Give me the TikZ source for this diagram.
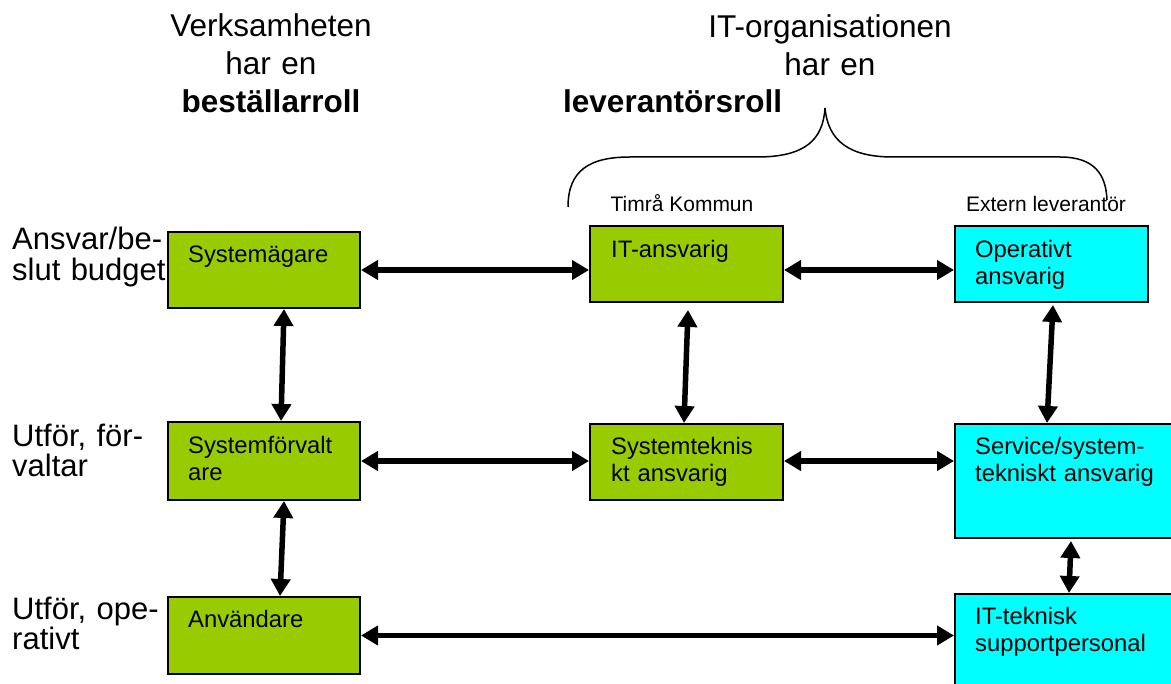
\documentclass[tikz,border=0pt]{standalone}
\usepackage{fontspec}
\setmainfont{Liberation Sans}
\usetikzlibrary{arrows.meta,calc}
\definecolor{boxgreen}{HTML}{99CC00}
\definecolor{boxcyan}{HTML}{00FFFF}
\frenchspacing
\begin{document}
\begin{tikzpicture}[x=1pt,y=-1pt,
  box/.style={draw=black, line width=2pt, inner sep=0pt, anchor=north west},
  gbox/.style={box, fill=boxgreen},
  cbox/.style={box, fill=boxcyan},
  boxtext/.style={anchor=base west, inner sep=0pt, font=\fontsize{23.8}{27}\selectfont, text width=220pt, align=left},
  sidetext/.style={anchor=base west, inner sep=0pt, font=\fontsize{31}{31}\selectfont, text width=200pt, align=left},
  headtext/.style={anchor=base, inner sep=0pt, font=\fontsize{31.5}{38}\selectfont, text width=320pt, align=center},
  smalltext/.style={anchor=base, inner sep=0pt, font=\fontsize{21}{24}\selectfont},
  arr/.style={line width=5.5pt, {Triangle[length=17pt,width=19pt]}-{Triangle[length=17pt,width=19pt]}},
  bracestyle/.style={line width=1.5pt}
]
\useasboundingbox (0,0) rectangle (1171,684);
\clip (0,0) rectangle (1171,684);

% headings
\node[headtext] (h1) at (271,37) {Verksamheten\\har en\\\textbf{beställarroll}};
\node[headtext] (h2) at (830,38) {IT-organisationen\\har en};
\node[anchor=base west, inner sep=0pt, font=\fontsize{31.5}{38}\selectfont\bfseries] (h3) at (563,113) {leverantörsroll};

% brace
\draw[bracestyle] (568,207) .. controls (568,170) and (590,157) .. (630,157) -- (757,157)
  .. controls (805,157) and (823,140) .. (825,108)
  .. controls (828,140) and (848,157) .. (893,157) -- (1060,157)
  .. controls (1095,157) and (1106,175) .. (1107,200);

\node[smalltext] (l1) at (682,212) {Timrå Kommun};
\node[smalltext] (l2) at (1046,212) {Extern leverantör};

% side labels
\node[sidetext] (s1) at (12,250) {Ansvar/be-\\slut budget};
\node[sidetext, font=\fontsize{31}{30}\selectfont] (s2) at (12,447) {Utför, för-\\valtar};
\node[sidetext] (s3) at (12,619) {Utför, ope-\\rativt};

% boxes
\node[gbox, minimum width=192pt, minimum height=76pt] (sysag) at (167,231) {};
\node[gbox, minimum width=193pt, minimum height=76pt] (itans) at (589,225) {};
\node[cbox, minimum width=193pt, minimum height=76pt] (oper) at (954,225) {};
\node[gbox, minimum width=192pt, minimum height=78pt] (sysforv) at (167,421) {};
\node[gbox, minimum width=193pt, minimum height=76pt] (systek) at (589,423) {};
\node[cbox, minimum width=234pt, minimum height=114pt] (service) at (954,423) {};
\node[gbox, minimum width=192pt, minimum height=77pt] (anv) at (167,596) {};
\node[cbox, minimum width=234pt, minimum height=114pt] (ittek) at (954,593) {};

% box texts
\node[boxtext] (t1) at ($(sysag.north west)+(21,32)$) {Systemägare};
\node[boxtext] (t2) at ($(itans.north west)+(22,33)$) {IT-ansvarig};
\node[boxtext] (t3) at ($(oper.north west)+(21,33)$) {Operativt\\ansvarig};
\node[boxtext] (t4) at ($(sysforv.north west)+(21,33)$) {Systemförvalt\\are};
\node[boxtext] (t5) at ($(systek.north west)+(22,32)$) {Systemteknis\\kt ansvarig};
\node[boxtext] (t6) at ($(service.north west)+(21,32)$) {Service/system-\\tekniskt ansvarig};
\node[boxtext] (t7) at ($(anv.north west)+(21,31)$) {Användare};
\node[boxtext] (t8) at ($(ittek.north west)+(21,31)$) {IT-teknisk\\supportpersonal};

% horizontal arrows
\draw[arr] (sysag.east) -- (sysag.east -| itans.west);
\draw[arr] (sysag.east -| itans.east) -- (sysag.east -| oper.west);
\draw[arr] (sysforv.east) -- (sysforv.east -| systek.west);
\draw[arr] (sysforv.east -| systek.east) -- (sysforv.east -| service.west);
\draw[arr] (anv.east) -- (anv.east -| ittek.west);

% vertical arrows
\draw[arr] ($(sysag.south)+(20,0)$) -- ($(sysforv.north)+(17,0)$);
\draw[arr] ($(sysforv.south)+(20,0)$) -- ($(anv.north)+(16,0)$);
\draw[arr] ($(itans.south)+(1.5,7)$) -- ($(systek.north)+(-2.5,0)$);
\draw[arr] ($(oper.south)+(1.5,2)$) -- ($(service.north west)+(93,0)$);
\draw[arr] ($(service.south west)+(117,2)$) -- ($(ittek.north west)+(115,0)$);
\end{tikzpicture}
\end{document}
